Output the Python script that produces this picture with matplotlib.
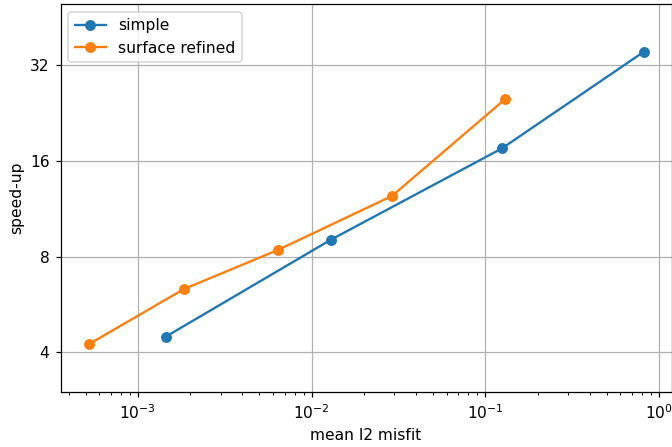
import matplotlib
matplotlib.use("Agg")
import matplotlib.pyplot as plt
from matplotlib.ticker import FixedLocator, FixedFormatter, NullLocator

# mean l2 misfit vs speed-up for two refinement strategies
simple_misfit = [1.45e-3, 0.0129, 0.1246, 0.822]
simple_speedup = [4.48, 9.03, 17.5, 35.3]

refined_misfit = [5.22e-4, 1.84e-3, 6.4e-3, 0.029, 0.130]
refined_speedup = [4.24, 6.32, 8.39, 12.4, 25.0]

y_ticks = [4, 8, 16, 32]
y_tick_labels = ["4", "8", "16", "32"]

W, H, DPI = 672, 447, 112
fig = plt.figure(figsize=(W / DPI, H / DPI), dpi=DPI)
ax = fig.add_axes([60.5 / W, 55 / H, (671.5 - 60.5) / W, (392 - 4) / H])

ax.plot(simple_misfit, simple_speedup, "o-", color="#1f77b4", label="simple")
ax.plot(refined_misfit, refined_speedup, "o-", color="#ff7f0e", label="surface refined")

ax.set_xscale("log")
ax.set_yscale("log", base=2)
ax.set_xlim(10 ** -3.445, 10 ** 0.072)
ax.set_ylim(3.0, 49.8)
ax.yaxis.set_major_locator(FixedLocator(y_ticks))
ax.yaxis.set_major_formatter(FixedFormatter(y_tick_labels))
ax.yaxis.set_minor_locator(NullLocator())

ax.grid(True, which="major")
ax.set_xlabel("mean l2 misfit")
ax.set_ylabel("speed-up")
ax.legend(loc="upper left")

fig.savefig("out.png", dpi=DPI)
